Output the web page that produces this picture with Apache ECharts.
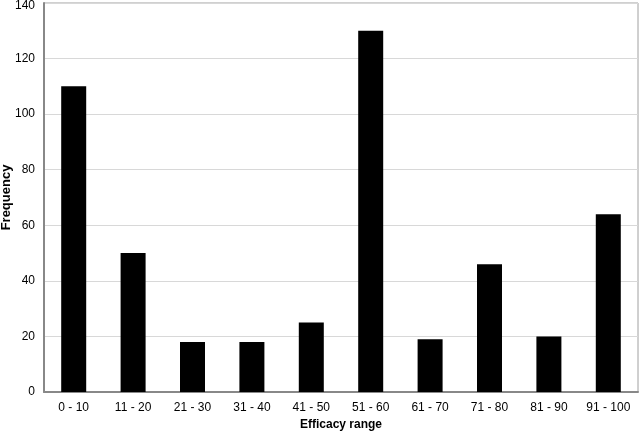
<!DOCTYPE html>
<html><head><meta charset="utf-8">
<script src="https://cdn.jsdelivr.net/npm/echarts@6/dist/echarts.min.js"></script>
<style>html,body{margin:0;padding:0;background:#fff}#c{width:640px;height:434px}</style>
</head><body><div id="c"></div>
<script>
const categories = ['0 - 10','11 - 20','21 - 30','31 - 40','41 - 50','51 - 60','61 - 70','71 - 80','81 - 90','91 - 100'];
const frequency = [110, 50, 18, 18, 25, 130, 19, 46, 20, 64];
const yMax = 140;
const chart = echarts.init(document.getElementById('c'), null, {renderer:'canvas'});
const font = '"Liberation Sans", Arial, sans-serif';
chart.setOption({
  animation:false,
  grid:{left:44,right:2,top:3,bottom:42,containLabel:false,outerBoundsMode:'none',show:true,borderColor:'#a0a0a0',borderWidth:1,backgroundColor:'transparent'},
  xAxis:{type:'category',data:categories,
    name:'Efficacy range',nameLocation:'middle',nameGap:27,nameMoveOverlap:false,
    nameTextStyle:{fontFamily:font,fontWeight:'bold',fontSize:12,color:'#000',verticalAlign:'top'},
    axisLine:{lineStyle:{color:'#888',width:2}},axisTick:{show:false},
    axisLabel:{fontFamily:font,fontSize:12,color:'#000',margin:10,interval:0}},
  yAxis:{type:'value',min:0,max:yMax,interval:20,
    name:'Frequency',nameLocation:'middle',nameGap:31,nameMoveOverlap:false,
    nameTextStyle:{fontFamily:font,fontWeight:'bold',fontSize:13,color:'#000'},
    axisLine:{show:true,lineStyle:{color:'#888',width:2}},axisTick:{show:false},
    axisLabel:{fontFamily:font,fontSize:12,color:'#000',margin:9,
      formatter:v => v === yMax ? '{t|' + v + '}' : String(v),
      rich:{t:{fontFamily:font,fontSize:12,color:'#000',padding:[6,0,0,0]}}},
    splitLine:{lineStyle:{color:'#d8d8d8',width:1}}},
  series:[{type:'bar',data:frequency,barWidth:25,itemStyle:{color:'#000'}}]
});
</script></body></html>
